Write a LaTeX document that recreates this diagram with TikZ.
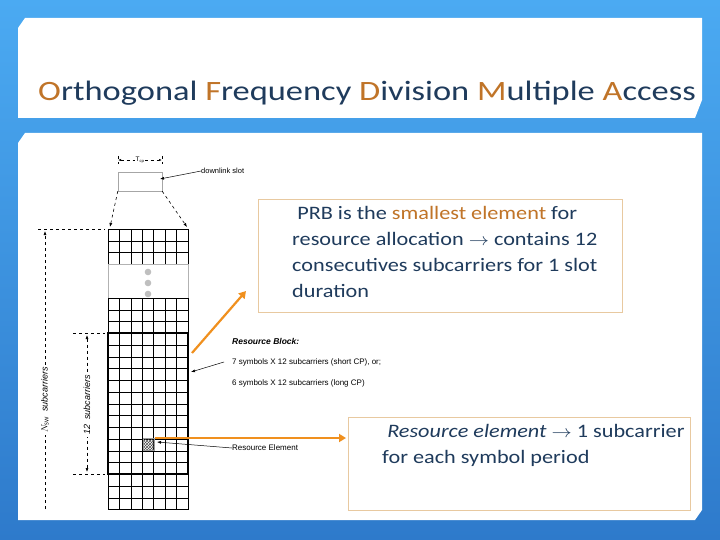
\documentclass[tikz,border=0pt]{standalone}
\usepackage{fontspec}
\setmainfont{Carlito}
\setsansfont{Liberation Sans}
\usetikzlibrary{arrows.meta,patterns}
\definecolor{bgA}{HTML}{4BAAF2}
\definecolor{bgB}{HTML}{2E7ACB}
\definecolor{ttl}{HTML}{1F3B5C}
\definecolor{org}{HTML}{C07428}
\definecolor{arr}{HTML}{F0901E}
\definecolor{bx}{HTML}{E8C9A0}
\tikzset{
 cell/.style={draw=black,line width=0.5pt},
 dsh/.style={dashed,line width=0.6pt},
 lbl/.style={font=\sffamily\fontsize{8}{9}\selectfont,anchor=west,inner sep=0},
 orarr/.style={draw=arr,line width=2.2pt,-{Triangle[length=7pt,width=8pt]}},
 tbox/.style={draw=bx,line width=0.8pt,fill=white},
 btxt/.style={font=\fontsize{19}{26}\selectfont,text=ttl,anchor=north west,align=left,inner sep=0,xscale=1.17},
 sarr/.style={line width=0.5pt,-{Latex[length=4pt]}}
}
\begin{document}
\begin{tikzpicture}[x=1pt,y=-1pt]
\useasboundingbox (0,0) rectangle (720,540);
\shade[top color=bgA,bottom color=bgB] (0,0) rectangle (720,540);
\fill[white] (25,18) -- (702,18) -- (702,100) -- (695,118) -- (18,118) -- (18,28) -- cycle;
\fill[white] (25,133) -- (702,133) -- (702,510) -- (695,520) -- (18,520) -- (18,143) -- cycle;
\node[anchor=base west,inner sep=0,font=\fontsize{28}{30}\selectfont,text=ttl,xscale=1.23] (title) at (38,101)
 {\textcolor{org}{O}rthogonal \textcolor{org}{F}requency \textcolor{org}{D}ivision \textcolor{org}{M}ultiple \textcolor{org}{A}ccess};
% grid
\def\cw{11.43}
\def\rh{11.75}
\foreach \r in {0,...,2}{\foreach \c in {0,...,6}{\draw[cell] (108+\c*\cw,229+\r*\rh) rectangle ++(\cw,\rh);}}
\draw[cell,draw=gray!60] (108,264.25) rectangle (188,298);
\foreach \r in {0,...,2}{\foreach \c in {0,...,6}{\draw[cell] (108+\c*\cw,298+\r*\rh) rectangle ++(\cw,\rh);}}
\foreach \r in {0,...,11}{\foreach \c in {0,...,6}{\draw[cell] (108+\c*\cw,333.25+\r*\rh) rectangle ++(\cw,\rh);}}
\foreach \r in {0,...,2}{\foreach \c in {0,...,6}{\draw[cell] (108+\c*\cw,474.25+\r*\rh) rectangle ++(\cw,\rh);}}
\node[draw=black,line width=1.6pt,minimum width=80pt,minimum height=141pt,inner sep=0] (rb) at (148,403.75) {};
\node[pattern=crosshatch,pattern color=black!70,draw=black!40,minimum width=\cw pt,minimum height=\rh pt,inner sep=0] (re) at (148.6,444) {};
\foreach \y in {272,283,294}{\fill[gray!50] (148,\y) circle (3.3);}
% slot
\node[draw=gray!70,minimum width=44pt,minimum height=19pt,inner sep=0] (slot) at (140,181.5) {};
\draw[dsh] (118,156) -- (118,164);
\draw[dsh] (162,156) -- (162,164);
\draw[dsh,{Latex[length=3pt]}-{Latex[length=3pt]}] (118,160) -- (162,160);
\node[fill=white,inner sep=1pt,font=\sffamily\fontsize{6.5}{7}\selectfont] (tcp) at (140,160) {T$_{\mathrm{cp}}$};
\node[lbl,font=\sffamily\fontsize{7.5}{8}\selectfont] (dl) at (201,171) {downlink slot};
\draw[sarr] (dl.west) -- (160,179);
\coordinate (g1) at (110,227); \coordinate (g2) at (187,227);
\draw[dsh,-{Latex[length=4pt]}] (slot.south west) -- (g1);
\draw[dsh,-{Latex[length=4pt]}] (slot.south east) -- (g2);
% left dims
\draw[dsh] (38,229) -- (105,229);
\draw[dsh,-{Latex[length=4pt]}] (45,509) -- (45,231);
\node[rotate=90,fill=white,inner sep=2pt,font=\sffamily\itshape\fontsize{9}{10}\selectfont] (nsw) at (45,400) {$N_{\mathrm{SW}}$\ \ subcarriers};
\draw[dsh] (73,333) -- (105,333);
\draw[dsh] (73,474) -- (105,474);
\draw[dsh,{Latex[length=4pt]}-{Latex[length=4pt]}] (87,335) -- (87,472);
\node[rotate=90,fill=white,inner sep=2pt,font=\sffamily\itshape\fontsize{9}{10}\selectfont] (twelve) at (87,405) {12\ \ subcarriers};
% labels
\node[lbl,font=\sffamily\bfseries\itshape\fontsize{8.5}{9}\selectfont] (rbl) at (232,341) {Resource Block:};
\node[lbl] (l7) at (232,362) {7 symbols X 12 subcarriers (short CP), or;};
\node[lbl] (l6) at (232,383) {6 symbols X 12 subcarriers (long CP)};
\draw[sarr] (l7.west) ++(-8,0) -- (191,372);
\node[lbl] (rel) at (232,448) {Resource Element};
\draw[sarr] (rel.west) -- (157,442);
% boxes
\node[tbox,minimum width=364pt,minimum height=113pt,inner sep=0] (b1) at (440,255.5) {};
\node[btxt] (t1) at (292,206) {\ PRB is the \textcolor{org}{smallest element} for\\ resource allocation $\rightarrow$ contains 12\\ consecutives subcarriers for 1 slot\\ duration};
\node[tbox,minimum width=342pt,minimum height=93pt,inner sep=0] (b2) at (519,463.5) {};
\node[btxt] (t2) at (382,424) {\ \textit{Resource element} $\rightarrow$ 1 subcarrier\\ for each symbol period};
\coordinate (a1) at (192,353); \coordinate (a1e) at (246,291);
\draw[orarr] (a1) -- (a1e);
\coordinate (a2) at (155,438); \coordinate (a2e) at (346,438);
\draw[orarr] (a2) -- (a2e);
\end{tikzpicture}
\end{document}
